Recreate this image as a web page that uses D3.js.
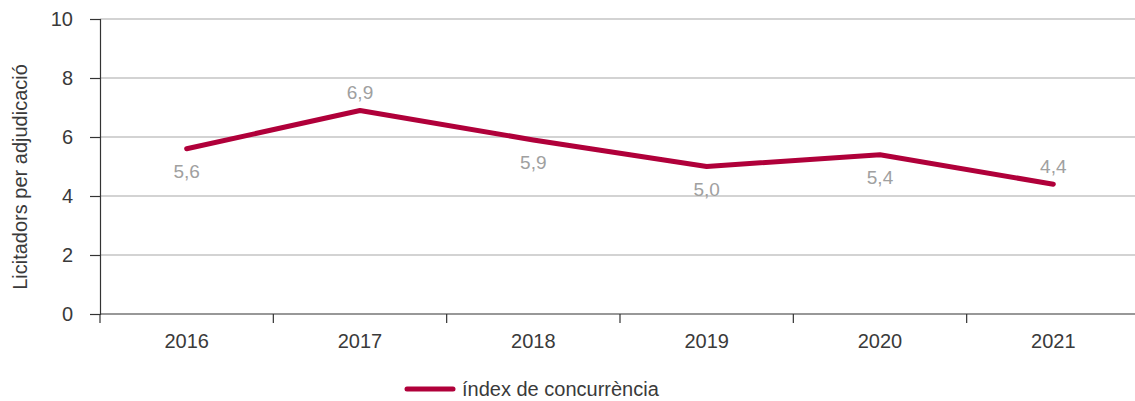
<!DOCTYPE html>
<html>
<head>
<meta charset="utf-8">
<script src="https://cdn.jsdelivr.net/npm/d3@7"></script>
<style>
  html, body { margin: 0; padding: 0; background: #fff; }
  svg { display: block; font-family: "Liberation Sans", Arial, sans-serif; }
</style>
</head>
<body>
<svg id="chart" width="1135" height="401"></svg>
<script>
// Adjudication competition index per year
const years = ["2016", "2017", "2018", "2019", "2020", "2021"];
const values = [5.6, 6.9, 5.9, 5.0, 5.4, 4.4];
// where each value label sits relative to its point
const labelSide = ["below", "above", "below", "below", "below", "above"];
const yTicks = [0, 2, 4, 6, 8, 10];
const seriesName = "índex de concurrència";
const yTitle = "Licitadors per adjudicació";

const svg = d3.select("#chart");
const plot = { left: 100, right: 1140, top: 19, bottom: 314 };
const lineColor = "#b0003a";
const textColor = "#3a3a3a";

const x = d3.scaleBand().domain(years).range([plot.left, plot.right]).paddingInner(0).paddingOuter(0);
const y = d3.scaleLinear().domain([0, 10]).range([plot.bottom, plot.top]);

// horizontal gridlines
svg.append("g").selectAll("line").data(yTicks.filter(d => d > 0)).join("line")
  .attr("x1", plot.left).attr("x2", 1135)
  .attr("y1", d => y(d)).attr("y2", d => y(d))
  .attr("stroke", "#a8a8a8").attr("stroke-width", 1.2);

// y axis
const yAxis = svg.append("g").attr("transform", `translate(${plot.left},0)`)
  .call(d3.axisLeft(y).tickValues(yTicks).tickSize(10).tickPadding(17).tickFormat(d3.format("d")));
yAxis.select(".domain").attr("stroke", "#333").attr("stroke-width", 1.2);
yAxis.selectAll(".tick line").attr("stroke", "#333").attr("stroke-width", 1.2);
yAxis.selectAll("text").attr("font-size", 20).attr("fill", textColor);

// x axis: ticks at band boundaries
const xAxisG = svg.append("g").attr("transform", `translate(0,${plot.bottom})`);
xAxisG.append("line").attr("x1", plot.left).attr("x2", 1135).attr("y1", 0).attr("y2", 0)
  .attr("stroke", "#333").attr("stroke-width", 1.2);
xAxisG.selectAll("line.tk").data(years).join("line").attr("class", "tk")
  .attr("x1", d => x(d)).attr("x2", d => x(d))
  .attr("y1", 0).attr("y2", 9)
  .attr("stroke", "#333").attr("stroke-width", 1.2);
xAxisG.selectAll("text").data(years).join("text")
  .attr("x", d => x(d) + x.bandwidth() / 2).attr("y", 34)
  .attr("text-anchor", "middle").attr("font-size", 20).attr("fill", textColor)
  .text(d => d);

// y axis title
svg.append("text")
  .attr("transform", "translate(27,177) rotate(-90)")
  .attr("text-anchor", "middle").attr("font-size", 20).attr("fill", textColor)
  .text(yTitle);

// series line
const cx = d => x(d) + x.bandwidth() / 2;
const line = d3.line().x((d, i) => cx(years[i])).y(d => y(d));
svg.append("path").datum(values)
  .attr("d", line).attr("fill", "none")
  .attr("stroke", lineColor).attr("stroke-width", 5)
  .attr("stroke-linecap", "round").attr("stroke-linejoin", "round");

// value labels
const fmt = v => d3.format(".1f")(v).replace(".", ",");
svg.append("g").selectAll("text").data(values).join("text")
  .attr("x", (d, i) => cx(years[i]))
  .attr("y", (d, i) => labelSide[i] === "above" ? y(d) - 11 : y(d) + 29)
  .attr("text-anchor", "middle").attr("font-size", 19).attr("fill", "#a0a0a0")
  .text(d => fmt(d));

// legend
const lg = svg.append("g");
lg.append("line").attr("x1", 407).attr("x2", 453).attr("y1", 389).attr("y2", 389)
  .attr("stroke", lineColor).attr("stroke-width", 5).attr("stroke-linecap", "round");
lg.append("text").attr("x", 462).attr("y", 396)
  .attr("font-size", 20).attr("fill", textColor).text(seriesName);
</script>
</body>
</html>
